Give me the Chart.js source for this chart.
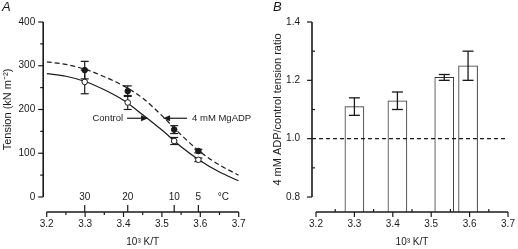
<!DOCTYPE html>
<html>
<head>
<meta charset="utf-8">
<script src="https://cdn.jsdelivr.net/npm/chart.js@4"></script>
<style>
  html, body { margin: 0; padding: 0; background: #fff; }
  #wrap { position: relative; width: 518px; height: 249px; }
  .panel { position: absolute; top: 0; width: 259px; height: 249px; }
</style>
</head>
<body>
<div id="wrap">
  <div class="panel" style="left:0"><canvas id="chartA" width="259" height="249"></canvas></div>
  <div class="panel" style="left:259px"><canvas id="chartB" width="259" height="249"></canvas></div>
</div>
<script>
// Panel A: tension vs 10^3 K/T
const pointX = [3.299, 3.411, 3.532, 3.595];
const controlTension = [263, 216, 128, 85];
const controlErr = [27, 16, 8, 4];
const adpTension = [290, 242, 154, 105];
const adpErr = [20, 12, 9, 4];

// fitted curves
const curveX = [3.20, 3.25, 3.30, 3.35, 3.40, 3.45, 3.50, 3.55, 3.60, 3.65, 3.70];
const controlCurve = [282, 276, 264, 245, 221, 188, 153, 115, 83, 57, 37];
const adpCurve = [309, 303, 292, 275, 254, 226, 186, 142, 103, 73, 50];

// temperature axis (top of panel A)
const tempLabels = ['30', '20', '10', '5'];
const tempTicks = [3.299, 3.411, 3.532, 3.595];

// Panel B: ADP/control ratio
const barX = [3.300, 3.412, 3.534, 3.596];
const ratio = [1.11, 1.13, 1.21, 1.25];
const ratioErr = [0.03, 0.03, 0.01, 0.05];
const refRatio = 1.0;

const xTicks = [3.2, 3.3, 3.4, 3.5, 3.6, 3.7];
const yTicksA = [0, 100, 200, 300, 400];
const yTicksB = [0.8, 1.0, 1.2, 1.4];

const FONT = "'Liberation Sans', Arial, sans-serif";
const INK = '#1a1a1a';

function mids(arr) {
  const out = [];
  for (let i = 0; i < arr.length - 1; i++) out.push((arr[i] + arr[i + 1]) / 2);
  return out;
}

function line(ctx, x1, y1, x2, y2) {
  ctx.beginPath();
  ctx.moveTo(x1, y1);
  ctx.lineTo(x2, y2);
  ctx.stroke();
}

// axes drawn by hand so they can be detached like the original
function axesPlugin(cfg) {
  return {
    id: 'axes',
    afterDraw(chart) {
      const ctx = chart.ctx;
      const xs = chart.scales.x, ys = chart.scales.y, area = chart.chartArea;
      const yTicks = cfg.yTicks;
      ctx.save();
      ctx.strokeStyle = INK;
      ctx.fillStyle = INK;
      ctx.lineWidth = 1.6;

      // y axis
      const ax = area.left - cfg.yGap;
      const yTop = ys.getPixelForValue(yTicks[yTicks.length - 1]);
      const yBot = ys.getPixelForValue(yTicks[0]);
      line(ctx, ax, yTop, ax, yBot);
      ctx.lineWidth = 1.2;
      ctx.font = '10px ' + FONT;
      ctx.textAlign = 'right';
      ctx.textBaseline = 'middle';
      yTicks.forEach(v => {
        const y = ys.getPixelForValue(v);
        line(ctx, ax - 5, y, ax, y);
        ctx.fillText(cfg.yFmt(v), ax - cfg.yLabelGap, y);
      });
      mids(yTicks).forEach(v => {
        const y = ys.getPixelForValue(v);
        line(ctx, ax, y, ax + 3 * cfg.yMinorDir, y);
      });

      // x axis
      const by = area.bottom;
      ctx.lineWidth = 1.6;
      line(ctx, xs.getPixelForValue(xTicks[0]), by, xs.getPixelForValue(xTicks[xTicks.length - 1]), by);
      ctx.lineWidth = 1.2;
      ctx.textAlign = 'center';
      ctx.textBaseline = 'top';
      xTicks.forEach(v => {
        const x = xs.getPixelForValue(v);
        line(ctx, x, by, x, by + 5);
        ctx.fillText(v.toFixed(1), x, by + 7);
      });
      mids(xTicks).forEach(v => {
        const x = xs.getPixelForValue(v);
        line(ctx, x, by, x, by + 3 * cfg.xMinorDir);
      });

      // x title
      ctx.font = '10px ' + FONT;
      ctx.textBaseline = 'middle';
      ctx.fillText('10\u00b3 K/T', (xs.left + xs.right) / 2, by + 30);

      // y title
      ctx.save();
      ctx.translate(cfg.yTitleX, (yTop + yBot) / 2);
      ctx.rotate(-Math.PI / 2);
      ctx.textAlign = 'center';
      ctx.textBaseline = 'middle';
      ctx.font = '11px ' + FONT;
      ctx.fillText(cfg.yTitle, 0, 0);
      ctx.restore();

      // panel letter
      ctx.font = 'italic 13px ' + FONT;
      ctx.textAlign = 'left';
      ctx.textBaseline = 'top';
      ctx.fillText(cfg.letter, cfg.letterX, 1);

      if (cfg.extra) cfg.extra(chart, ctx);
      ctx.restore();
    }
  };
}

function errorBar(ctx, x, yLo, yHi, cap) {
  line(ctx, x, yLo, x, yHi);
  line(ctx, x - cap / 2, yLo, x + cap / 2, yLo);
  line(ctx, x - cap / 2, yHi, x + cap / 2, yHi);
}

function arrow(ctx, x1, x2, y) {
  const dir = Math.sign(x2 - x1);
  line(ctx, x1, y, x2 - dir * 6, y);
  ctx.beginPath();
  ctx.moveTo(x2, y);
  ctx.lineTo(x2 - dir * 7, y - 3);
  ctx.lineTo(x2 - dir * 7, y + 3);
  ctx.closePath();
  ctx.fill();
}

// Panel A
const errorsA = {
  id: 'errorsA',
  beforeDatasetsDraw(chart) {
    const ctx = chart.ctx, xs = chart.scales.x, ys = chart.scales.y;
    ctx.save();
    ctx.strokeStyle = INK;
    ctx.lineWidth = 1.2;
    pointX.forEach((v, i) => {
      const x = xs.getPixelForValue(v);
      errorBar(ctx, x, ys.getPixelForValue(adpTension[i] - adpErr[i]), ys.getPixelForValue(adpTension[i] + adpErr[i]), 8);
      errorBar(ctx, x, ys.getPixelForValue(controlTension[i] - controlErr[i]), ys.getPixelForValue(controlTension[i] + controlErr[i]), 8);
    });
    ctx.restore();
  }
};

new Chart(document.getElementById('chartA'), {
  type: 'line',
  data: {
    datasets: [
      {
        label: '4 mM MgADP points',
        data: pointX.map((x, i) => ({ x: x, y: adpTension[i] })),
        showLine: false,
        pointRadius: 2.8,
        pointBackgroundColor: INK,
        pointBorderColor: INK,
        pointBorderWidth: 1
      },
      {
        label: 'Control points',
        data: pointX.map((x, i) => ({ x: x, y: controlTension[i] })),
        showLine: false,
        pointRadius: 2.8,
        pointBackgroundColor: '#fff',
        pointBorderColor: INK,
        pointBorderWidth: 1
      },
      {
        label: '4 mM MgADP',
        data: curveX.map((x, i) => ({ x: x, y: adpCurve[i] })),
        borderColor: INK,
        borderWidth: 1.2,
        borderDash: [5, 3],
        pointRadius: 0,
        cubicInterpolationMode: 'monotone'
      },
      {
        label: 'Control',
        data: curveX.map((x, i) => ({ x: x, y: controlCurve[i] })),
        borderColor: INK,
        borderWidth: 1.2,
        pointRadius: 0,
        cubicInterpolationMode: 'monotone'
      }
    ]
  },
  options: {
    responsive: false,
    animation: false,
    layout: { padding: { left: 46.7, right: 20.3, top: 22, bottom: 37 } },
    scales: {
      x: { type: 'linear', min: 3.2, max: 3.7, display: false },
      y: { type: 'linear', min: -34.3, max: 400, display: false }
    },
    plugins: { legend: { display: false }, tooltip: { enabled: false } }
  },
  plugins: [errorsA, axesPlugin({
    yTicks: yTicksA,
    yFmt: v => String(v),
    yGap: 3.5,
    yLabelGap: 8,
    yMinorDir: -1,
    xMinorDir: 1,
    yTitle: 'Tension (kN m\u207b\u00b2)',
    yTitleX: 8,
    letter: 'A',
    letterX: 2,
    extra(chart, ctx) {
      const xs = chart.scales.x, ys = chart.scales.y, by = chart.chartArea.bottom;
      ctx.lineWidth = 1.2;
      ctx.font = '10px ' + FONT;
      ctx.textAlign = 'center';
      ctx.textBaseline = 'middle';
      tempTicks.forEach((v, i) => {
        const x = xs.getPixelForValue(v);
        line(ctx, x, by, x, by - 7);
        ctx.fillText(tempLabels[i], x, ys.getPixelForValue(0));
      });
      ctx.fillText('\u00b0C', xs.getPixelForValue(3.66), ys.getPixelForValue(0));

      // curve labels
      ctx.font = '9.5px ' + FONT;
      const ay = ys.getPixelForValue(180);
      const cTip = xs.getPixelForValue(3.464);
      arrow(ctx, cTip - 21, cTip, ay);
      ctx.textAlign = 'right';
      ctx.fillText('Control', cTip - 25, ay);
      const aTip = xs.getPixelForValue(3.503);
      arrow(ctx, aTip + 24, aTip, ay);
      ctx.textAlign = 'left';
      ctx.fillText('4 mM MgADP', aTip + 29, ay);
    }
  })]
});

// Panel B
const errorsB = {
  id: 'errorsB',
  afterDatasetsDraw(chart) {
    const ctx = chart.ctx, xs = chart.scales.x, ys = chart.scales.y, area = chart.chartArea;
    ctx.save();
    ctx.strokeStyle = INK;
    ctx.lineWidth = 1.3;
    barX.forEach((v, i) => {
      errorBar(ctx, xs.getPixelForValue(v), ys.getPixelForValue(ratio[i] - ratioErr[i]), ys.getPixelForValue(ratio[i] + ratioErr[i]), 11);
    });
    // reference line at ratio 1
    const y = ys.getPixelForValue(refRatio);
    ctx.lineWidth = 1.2;
    ctx.setLineDash([4, 3]);
    line(ctx, area.left - 4, y, xs.getPixelForValue(3.7), y);
    ctx.restore();
  }
};

new Chart(document.getElementById('chartB'), {
  type: 'bar',
  data: {
    datasets: [{
      label: 'ratio',
      data: barX.map((x, i) => ({ x: x, y: ratio[i] })),
      backgroundColor: '#fff',
      borderColor: '#333',
      borderWidth: 1,
      barThickness: 19
    }]
  },
  options: {
    responsive: false,
    animation: false,
    layout: { padding: { left: 57, right: 10, top: 22, bottom: 37 } },
    scales: {
      x: { type: 'linear', min: 3.2, max: 3.7, offset: false, display: false },
      y: { type: 'linear', min: 0.7486, max: 1.4, display: false }
    },
    plugins: { legend: { display: false }, tooltip: { enabled: false } }
  },
  plugins: [errorsB, axesPlugin({
    yTicks: yTicksB,
    yFmt: v => v.toFixed(1),
    yGap: 4,
    yLabelGap: 12,
    yMinorDir: 1,
    xMinorDir: -1,
    yTitle: '4 mM ADP/control tension ratio',
    yTitleX: 19,
    letter: 'B',
    letterX: 14
  })]
});
</script>
</body>
</html>
